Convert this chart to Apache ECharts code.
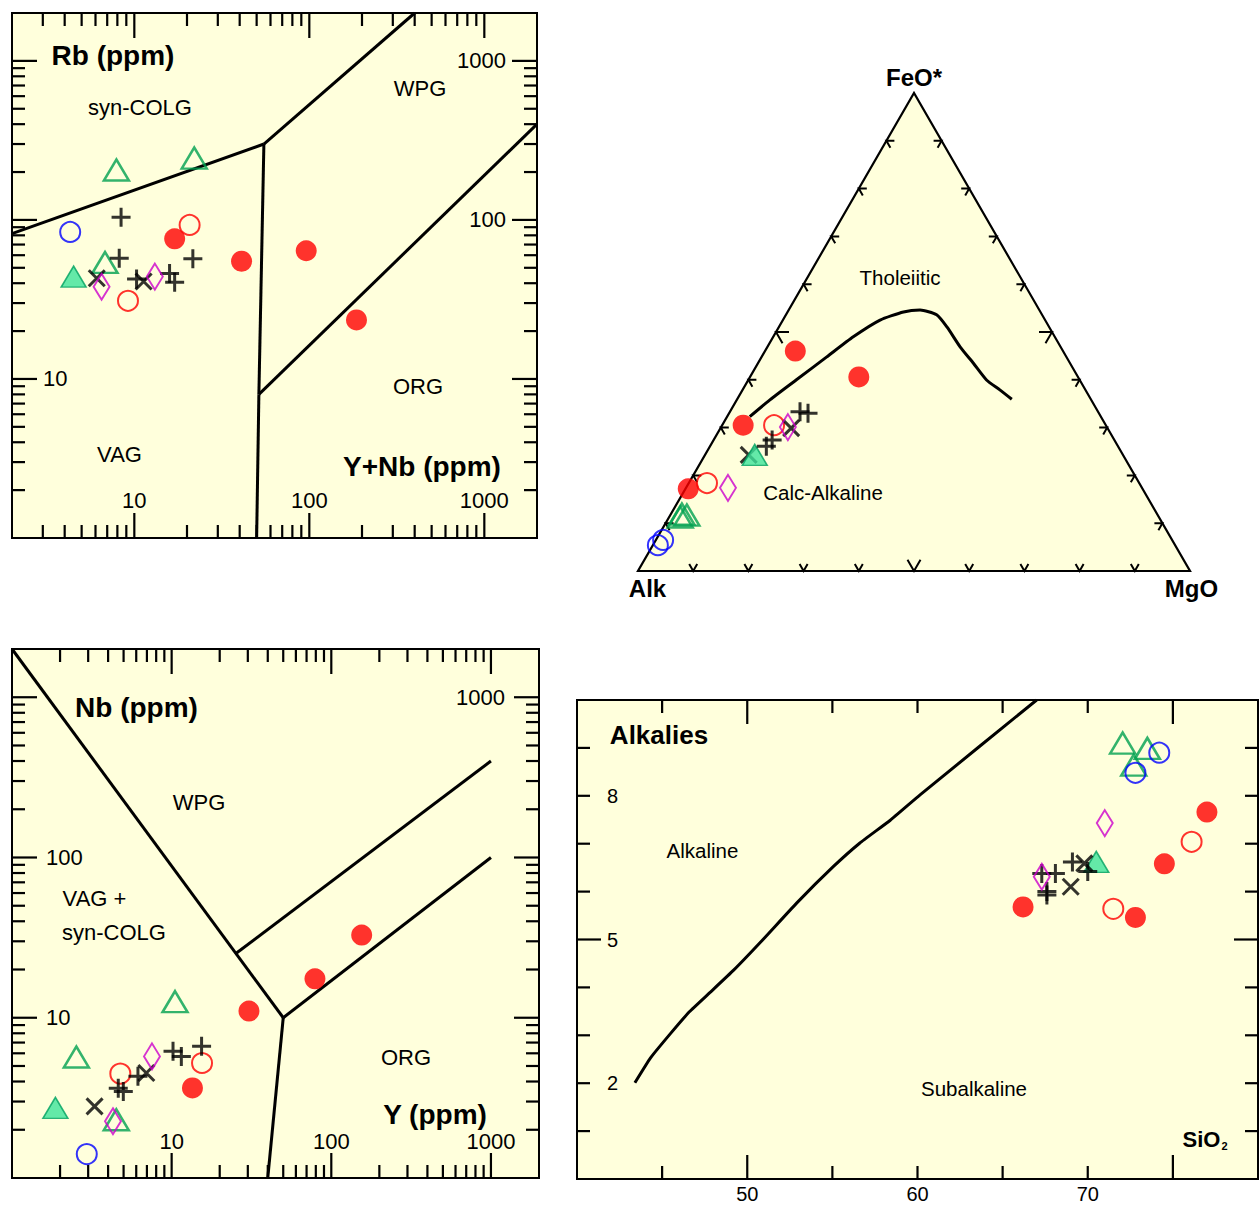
<!DOCTYPE html>
<html><head><meta charset="utf-8">
<script src="https://cdn.jsdelivr.net/npm/echarts@6/dist/echarts.min.js"></script>
<style>html,body{margin:0;padding:0;background:#fff;}#c{width:1259px;height:1205px;}</style>
</head><body><div id="c"></div>
<script>
// ===== Panel 1: Rb vs Y+Nb (ppm) =====
const rbRedFilled   = [[17.0,76],[41,55],[96,64],[186,23.5]];
const rbRedOpen     = [[20.7,93],[9.2,31]];
const rbBlueOpen    = [[4.3,84]];
const rbGreenOpen   = [[7.9,206],[22,245],[6.8,54]];
const rbGreenFilled = [[4.5,44]];
const rbPlus        = [[8.4,104],[8.2,57.5],[21.6,57],[10.3,42.5],[15.9,46],[17,40.6]];
const rbCross       = [[6.1,43],[11.3,41]];
const rbDiamond     = [[6.5,38],[13.1,44]];
const rbLineVagColg = [[2,82],[55,300]];
const rbLineColgWpg = [[55,300],[400,2000]];
const rbLineVagWpg  = [[55,300],[51.5,8]];
const rbLineWpgOrg  = [[51.5,8],[2000,400]];
const rbLineVagOrg  = [[51.5,8],[50,1]];

// ===== Panel 3: Nb vs Y (ppm) =====
const nbRedFilled   = [[30.5,11.0],[79,17.5],[155,32.8],[13.5,3.65]];
const nbRedOpen     = [[4.77,4.48],[15.5,5.22]];
const nbBlueOpen    = [[2.94,1.41]];
const nbGreenOpen   = [[10.5,12.6],[2.53,5.69],[4.5,2.31]];
const nbGreenFilled = [[1.87,2.74]];
const nbPlus        = [[4.63,3.63],[4.98,3.46],[6.15,4.31],[10.2,6.17],[11.5,5.74],[15.4,6.63]];
const nbCross       = [[3.29,2.80],[6.94,4.52]];
const nbDiamond     = [[4.29,2.26],[7.53,5.74]];
const nbLineWpgVag  = [[1,2000],[50,10]];
const nbLineWpgOrg  = [[25,25],[1000,400]];
const nbLineOrgVag  = [[50,10],[1000,100]];
const nbLineVagOrg  = [[50,10],[40,1]];

// shared log-axis ticks
const logMajor = [10,100,1000];
const logMinor = [2,3,4,5,6,7,8,9,20,30,40,50,60,70,80,90,200,300,400,500,600,700,800,900];
const rbXLabels = [10,100,1000], rbYLeftLabels = [10], rbYRightLabels = [100,1000];
const nbXLabels = [10,100,1000], nbYLeftLabels = [10,100], nbYRightLabels = [1000];

// ===== Panel 2: AFM ternary [Alk, FeO*, MgO] =====
const afmRedFilled   = [[48.5,46.0,5.5],[39.7,40.6,19.7],[65.7,30.5,3.8],[82.3,17.2,0.5]];
const afmRedOpen     = [[60.1,30.5,9.4],[78.3,18.4,3.3]];
const afmBlueOpen    = [[93.7,5.4,0.9],[92.2,6.5,1.3]];
const afmGreenOpen   = [[86.1,11.9,2.0],[85.3,11.7,3.0],[86.7,11.3,2.0]];
const afmGreenFilled = [[66.7,24.3,9.0]];
const afmPlus        = [[54.0,33.3,12.7],[52.7,33.0,14.3],[62.0,27.4,10.6],[63.7,26.1,10.2]];
const afmCross       = [[67.8,24.3,7.9],[57.3,29.9,12.8]];
const afmDiamond     = [[57.8,30.1,12.1],[75.0,17.4,7.6]];
const afmBoundary    = [[63.6,32.3,4.1],[58.2,35.8,6.0],[51.3,40.0,8.7],[43.4,44.8,11.8],[36.5,49.0,14.5],
  [29.9,52.5,17.6],[24.8,54.2,21.0],[21.6,54.6,23.8],[19.1,53.6,27.3],[18.5,51.0,30.5],[18.2,46.9,34.9],
  [17.5,43.4,39.1],[16.9,40.0,43.2],[15.5,37.9,46.6],[14.3,35.9,49.7]];
const afmVertices    = {Alk:[100,0,0], FeO:[0,100,0], MgO:[0,0,100]};
const afmTickSteps   = [10,20,30,40,50,60,70,80,90];

// ===== Panel 4: Alkalies vs SiO2 =====
const tasRedFilled   = [[77.0,7.66],[74.5,6.58],[66.2,5.68],[72.8,5.46]];
const tasRedOpen     = [[76.1,7.04],[71.5,5.64]];
const tasBlueOpen    = [[74.2,8.90],[72.8,8.48]];
const tasGreenOpen   = [[72.05,9.10],[73.5,8.99],[72.7,8.64]];
const tasGreenFilled = [[70.5,6.62]];
const tasPlus        = [[67.3,6.38],[68.1,6.38],[69.1,6.62],[70.0,6.42],[67.6,6.00],[67.6,5.93]];
const tasCross       = [[69.0,6.10],[69.8,6.59]];
const tasDiamond     = [[71.0,7.43],[67.3,6.31]];
const tasBoundary    = [[43.4,2.01],[44.3,2.52],[45.5,3.04],[46.6,3.49],[47.8,3.89],[49.2,4.36],[50.9,4.99],
  [52.9,5.76],[55.05,6.52],[56.6,7.01],[58.4,7.49],[60.15,8.02],[67.0,10.0]];
const sio2MinorTicks = [45,55,60,65,70], sio2MajorTicks = [50,75];
const alkMinorTicks  = [1,2,3,4,6,7,8,9], alkMajorTicks = [5];
const sio2Labels = [50,60,70], alkLabels = [2,5,8];

// ===== build =====
const FONT = '"Liberation Sans", Arial, Helvetica, sans-serif';
const BG = '#ffffdc';
const SQ3 = Math.sqrt(3)/2;
function tern(p){ const s=p[0]+p[1]+p[2]; const f=p[1]/s, m=p[2]/s; return [m+f/2, f*SQ3]; }

const CLR = 'rgba(0,0,0,0)';
const MK = {
  redFilled:  {symbol:'circle', symbolSize:21, itemStyle:{color:'#ff0000'}},
  redOpen:    {symbol:'circle', symbolSize:20, itemStyle:{color:CLR, borderColor:'#ff0000', borderWidth:2}},
  blueOpen:   {symbol:'circle', symbolSize:20, itemStyle:{color:CLR, borderColor:'#0000ff', borderWidth:2}},
  greenOpen:  {symbol:'triangle', symbolSize:[25,21], itemStyle:{color:CLR, borderColor:'#00a050', borderWidth:2.5}},
  greenFilled:{symbol:'triangle', symbolSize:[25,21], itemStyle:{color:'#3de39b', borderColor:'#00a060', borderWidth:1.5}},
  plus:       {symbol:'path://M10 0L10 20M0 10L20 10', symbolSize:19, itemStyle:{color:CLR, borderColor:'#000', borderWidth:3}},
  cross:      {symbol:'path://M0 0L20 20M20 0L0 20', symbolSize:16, itemStyle:{color:CLR, borderColor:'#000', borderWidth:3}},
  diamond:    {symbol:'diamond', symbolSize:[16,26], itemStyle:{color:CLR, borderColor:'#cc00cc', borderWidth:2}}
};
function sc(data, key, xi, yi){
  return Object.assign({type:'scatter', xAxisIndex:xi, yAxisIndex:yi, data:data, z:10, silent:true}, MK[key],
    {itemStyle:Object.assign({}, MK[key].itemStyle)});
}
function ln(data, xi, yi, smooth){
  return {type:'line', xAxisIndex:xi, yAxisIndex:yi, data:data, symbol:'none', smooth:smooth||false, z:4, silent:true,
    lineStyle:{color:'#000', width:3}};
}
function tickSeries(xi, yi, xr, yr, xMaj, xMin, yMaj, yMin, LMAJ, LMIN){
  const data=[];
  xMaj.forEach(v=>data.push([v, yr[0], LMAJ, 0]));
  xMin.forEach(v=>data.push([v, yr[0], LMIN, 0]));
  yMaj.forEach(v=>data.push([xr[0], v, LMAJ, 1]));
  yMin.forEach(v=>data.push([xr[0], v, LMIN, 1]));
  return {type:'custom', xAxisIndex:xi, yAxisIndex:yi, data:data, z:3, silent:true, clip:false,
    renderItem:function(params, api){
      const v0=api.value(0), v1=api.value(1), len=api.value(2), side=api.value(3);
      let segs;
      if(side===0){ const a=api.coord([v0,yr[0]]), b=api.coord([v0,yr[1]]);
        segs=[[a[0],a[1],a[0],a[1]-len],[b[0],b[1],b[0],b[1]+len]]; }
      else { const a=api.coord([xr[0],v1]), b=api.coord([xr[1],v1]);
        segs=[[a[0],a[1],a[0]+len,a[1]],[b[0],b[1],b[0]-len,b[1]]]; }
      return {type:'group', children:segs.map(s=>({type:'line', shape:{x1:s[0],y1:s[1],x2:s[2],y2:s[3]},
        style:{stroke:'#000', lineWidth:2.2}}))};
    }};
}
function only(list){ return function(v){ const r=Math.round(v); return (list.indexOf(r)>=0 && Math.abs(v-r)<1e-6*Math.max(1,r)) ? String(r) : ''; }; }
const hid = {axisLine:{show:false}, axisTick:{show:false}, splitLine:{show:false}};
function lbl(list, inside, margin, size){ return {show:true, inside:inside, margin:margin, fontSize:size, color:'#000', fontFamily:FONT, formatter:only(list)}; }

// ternary helpers
const vA=tern(afmVertices.Alk), vF=tern(afmVertices.FeO), vM=tern(afmVertices.MgO);
function unit(a,b){ const dx=b[0]-a[0], dy=b[1]-a[1], l=Math.hypot(dx,dy); return [dx/l, dy/l]; }
const afmTickData=[];
[[vA,vF,vM],[vA,vM,vF],[vM,vF,vA]].forEach(function(e){
  const d1=unit(e[0],e[2]), d2=unit(e[1],e[2]);
  afmTickSteps.forEach(function(k){
    const t=k/100, P=[e[0][0]+t*(e[1][0]-e[0][0]), e[0][1]+t*(e[1][1]-e[0][1])];
    const L=(k===50?13:8)/552;
    afmTickData.push([P[0],P[1],d1[0]*L,d1[1]*L,d2[0]*L,d2[1]*L]);
  });
});
const T = arr => arr.map(tern);

const gridBase = {show:true, backgroundColor:BG, borderColor:'#000', borderWidth:2, containLabel:false, outerBoundsMode:'none'};

const series = [
  // panel 1
  tickSeries(0,0,[2,2000],[1,2000],logMajor,logMinor.filter(v=>v>2),logMajor,logMinor,25,13),
  ln(rbLineVagColg,0,0), ln(rbLineColgWpg,0,0), ln(rbLineVagWpg,0,0), ln(rbLineWpgOrg,0,0), ln(rbLineVagOrg,0,0),
  sc(rbGreenOpen,'greenOpen',0,0), sc(rbBlueOpen,'blueOpen',0,0), sc(rbRedFilled,'redFilled',0,0), sc(rbRedOpen,'redOpen',0,0),
  sc(rbGreenFilled,'greenFilled',0,0), sc(rbCross,'cross',0,0), sc(rbPlus,'plus',0,0), sc(rbDiamond,'diamond',0,0),
  // panel 2
  {type:'custom', xAxisIndex:1, yAxisIndex:2, data:[[0,0]], z:1, silent:true, clip:false,
    renderItem:function(p,api){ return {type:'polygon', shape:{points:[api.coord(vA),api.coord(vM),api.coord(vF)]},
      style:{fill:BG, stroke:'#000', lineWidth:2.2}}; }},
  {type:'custom', xAxisIndex:1, yAxisIndex:2, data:afmTickData, z:3, silent:true, clip:false,
    renderItem:function(p,api){ const x=api.value(0), y=api.value(1);
      return {type:'polyline', shape:{points:[api.coord([x+api.value(2),y+api.value(3)]), api.coord([x,y]), api.coord([x+api.value(4),y+api.value(5)])]},
        style:{stroke:'#000', lineWidth:2, fill:'none'}}; }},
  ln(T(afmBoundary),1,2,0.2),
  sc(T(afmBlueOpen),'blueOpen',1,2), sc(T(afmGreenOpen),'greenOpen',1,2), sc(T(afmRedFilled),'redFilled',1,2),
  sc(T(afmRedOpen),'redOpen',1,2), sc(T(afmCross),'cross',1,2), sc(T(afmGreenFilled),'greenFilled',1,2),
  sc(T(afmPlus),'plus',1,2), sc(T(afmDiamond),'diamond',1,2),
  // panel 3
  tickSeries(2,3,[1,2000],[1,2000],logMajor,logMinor,logMajor,logMinor,25,13),
  ln(nbLineWpgVag,2,3), ln(nbLineWpgOrg,2,3), ln(nbLineOrgVag,2,3), ln(nbLineVagOrg,2,3),
  sc(nbGreenOpen,'greenOpen',2,3), sc(nbBlueOpen,'blueOpen',2,3), sc(nbRedFilled,'redFilled',2,3), sc(nbRedOpen,'redOpen',2,3),
  sc(nbGreenFilled,'greenFilled',2,3), sc(nbCross,'cross',2,3), sc(nbPlus,'plus',2,3), sc(nbDiamond,'diamond',2,3),
  // panel 4
  tickSeries(3,5,[40,80],[0,10],sio2MajorTicks,sio2MinorTicks,alkMajorTicks,alkMinorTicks,24,13),
  ln(tasBoundary,3,5,0.12),
  sc(tasGreenOpen,'greenOpen',3,5), sc(tasBlueOpen,'blueOpen',3,5), sc(tasRedFilled,'redFilled',3,5), sc(tasRedOpen,'redOpen',3,5),
  sc(tasGreenFilled,'greenFilled',3,5), sc(tasCross,'cross',3,5), sc(tasPlus,'plus',3,5), sc(tasDiamond,'diamond',3,5)
];

const texts = [
  ['Rb (ppm)',113,55,28,true],['syn-COLG',140,107,22],['WPG',420,88.5,22],['ORG',418,386,22],['VAG',119.5,454.5,22],['Y+Nb (ppm)',422,466,28,true],
  ['FeO*',914,77,24,true],['Alk',647.5,588.5,24,true],['MgO',1191.5,588,24,true],['Tholeiitic',900,277,20.5],['Calc-Alkaline',823,492.5,20.5],
  ['Nb (ppm)',136.5,707,28,true],['WPG',199,802.5,22],['VAG +',94.5,898,22],['syn-COLG',114,932.5,22],['ORG',406,1057.5,22],['Y (ppm)',435,1114,28,true],
  ['Alkalies',659,735,26,true],['Alkaline',702.5,850.5,20.5],['Subalkaline',974,1088.5,20.5],['SiO',1201.5,1139,22,true],['2',1224.5,1146,11,true]
];
const graphic = texts.map(t=>({type:'text', x:t[1], y:t[2], z:100, silent:true,
  style:{text:t[0], fill:'#000', fontSize:t[3], fontWeight:t[4]?'bold':'normal', fontFamily:FONT, align:'center', verticalAlign:'middle'}}));

const option = {
  animation:false,
  backgroundColor:'#ffffff',
  grid:[
    Object.assign({left:12, top:13, width:525, height:525}, gridBase),
    {left:638, top:93, width:552, height:478, show:false, containLabel:false, outerBoundsMode:'none'},
    Object.assign({left:12, top:649, width:527, height:529}, gridBase),
    Object.assign({left:577, top:700, width:681, height:479}, gridBase)
  ],
  xAxis:[
    Object.assign({gridIndex:0, type:'log', logBase:10, min:2, max:2000, axisLabel:lbl(rbXLabels,true,27,22)}, hid),
    {gridIndex:1, type:'value', min:0, max:1, show:false},
    Object.assign({gridIndex:2, type:'log', logBase:10, min:1, max:2000, axisLabel:lbl(nbXLabels,true,26,22)}, hid),
    Object.assign({gridIndex:3, type:'value', min:40, max:80, interval:10, axisLabel:lbl(sio2Labels,false,5,20)}, hid)
  ],
  yAxis:[
    Object.assign({gridIndex:0, type:'log', logBase:10, min:1, max:2000, position:'left', axisLabel:lbl(rbYLeftLabels,true,31,22)}, hid),
    Object.assign({gridIndex:0, type:'log', logBase:10, min:1, max:2000, position:'right', axisLabel:lbl(rbYRightLabels,true,31,22)}, hid),
    {gridIndex:1, type:'value', min:0, max:SQ3, show:false},
    Object.assign({gridIndex:2, type:'log', logBase:10, min:1, max:2000, position:'left', axisLabel:lbl(nbYLeftLabels,true,34,22)}, hid),
    Object.assign({gridIndex:2, type:'log', logBase:10, min:1, max:2000, position:'right', axisLabel:lbl(nbYRightLabels,true,34,22)}, hid),
    Object.assign({gridIndex:3, type:'value', min:0, max:10, interval:1, position:'left', axisLabel:lbl(alkLabels,true,30,20)}, hid)
  ],
  graphic: graphic,
  series: series
};
const chart = echarts.init(document.getElementById('c'), null, {renderer:'svg', width:1259, height:1205});
chart.setOption(option);
</script>
</body></html>
